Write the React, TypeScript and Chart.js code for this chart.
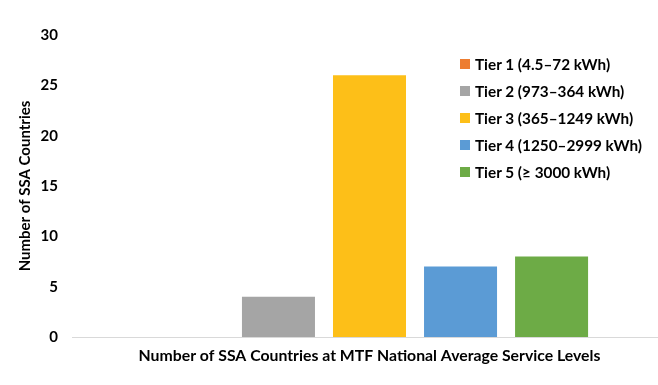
import React, { useEffect, useRef } from "react";
import { Chart, registerables } from "chart.js";

Chart.register(...registerables);

const categories = [""];
const seriesNames = [
  "Tier 1 (4.5–72 kWh)",
  "Tier 2 (973–364 kWh)",
  "Tier 3 (365–1249 kWh)",
  "Tier 4 (1250–2999 kWh)",
  "Tier 5 (≥ 3000 kWh)",
];
const seriesValues = [[0], [4], [26], [7], [8]];
const seriesColors = ["#ED7D31", "#A5A5A5", "#FDBF18", "#5B9BD5", "#6DAB46"];
const yTicks = [0, 5, 10, 15, 20, 25, 30];
const yTitle = "Number of SSA Countries";
const xTitle = "Number of SSA Countries at MTF National Average Service Levels";

const FONT = "Lato, 'Open Sans', sans-serif";

export default function App() {
  const ref = useRef<HTMLCanvasElement | null>(null);

  useEffect(() => {
    if (!ref.current) return;
    const chart = new Chart(ref.current, {
      type: "bar",
      data: {
        labels: categories,
        datasets: seriesNames.map((name, i) => ({
          label: name,
          data: seriesValues[i],
          backgroundColor: seriesColors[i],
          borderWidth: 0,
          categoryPercentage: 0.765,
          barPercentage: 0.802,
        })),
      },
      options: {
        responsive: false,
        animation: false,
        layout: { padding: { left: 0, right: 8, top: 35, bottom: 0 } },
        plugins: {
          legend: { display: false },
          tooltip: { enabled: false },
          title: { display: false },
        },
        scales: {
          x: {
            grid: { display: false },
            border: { display: true, color: "#d9d9d9", width: 1 },
            ticks: { display: false },
            title: {
              display: true,
              text: xTitle,
              color: "#000",
              font: { family: FONT, size: 15.8, weight: "bold" },
              padding: { top: 0, bottom: 20 },
            },
            afterFit: (scale: any) => {
              scale.height = 48;
            },
          },
          y: {
            min: yTicks[0],
            max: yTicks[yTicks.length - 1],
            afterBuildTicks: (scale: any) => {
              scale.ticks = yTicks.map((v) => ({ value: v }));
            },
            grid: { display: false, drawTicks: false },
            border: { display: false },
            ticks: {
              color: "#000",
              padding: 14,
              font: { family: FONT, size: 15, weight: "bold" },
            },
            title: {
              display: true,
              text: yTitle,
              color: "#000",
              font: { family: FONT, size: 15, weight: "bold" },
              padding: { top: 16, bottom: 0 },
            },
            afterFit: (scale: any) => {
              scale.width = 72;
            },
          },
        },
      },
    });
    return () => chart.destroy();
  }, []);

  return (
    <div style={{ position: "fixed", left: 0, top: 0, width: 658, height: 385, background: "#fff", overflow: "hidden" }}>
      <canvas ref={ref} width={675} height={385} style={{ position: "absolute", left: 0, top: 0 }} />
      <div style={{ position: "absolute", left: 460, top: 50, fontFamily: FONT, fontWeight: "bold", fontSize: 15.3, color: "#000" }}>
        {seriesNames.map((name, i) => (
          <div key={name} style={{ display: "flex", alignItems: "center", height: 27 }}>
            <span style={{ display: "inline-block", width: 10, height: 10, background: seriesColors[i], marginRight: 5, flex: "none" }} />
            <span style={{ whiteSpace: "nowrap" }}>{name}</span>
          </div>
        ))}
      </div>
    </div>
  );
}
